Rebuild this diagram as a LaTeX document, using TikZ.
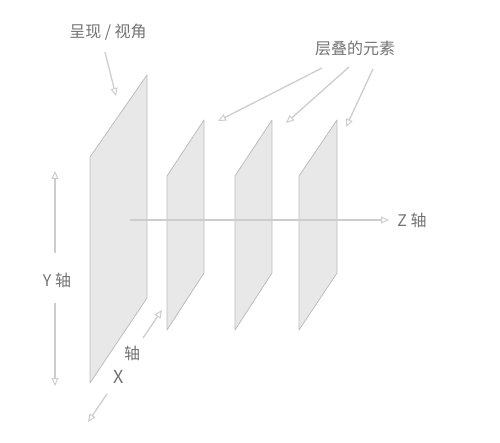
\documentclass[tikz,border=0pt]{standalone}
\usepackage{fontspec}
\newfontfamily\cjk{Noto Sans CJK SC}
\usetikzlibrary{arrows.meta}
\definecolor{planefill}{HTML}{E8E8E8}
\definecolor{planeline}{HTML}{BDBDBD}
\definecolor{arrowline}{HTML}{CDCDCD}
\definecolor{labeltext}{HTML}{737373}
\tikzstyle{plane}=[draw=planeline, fill=planefill, line width=0.8pt, line join=round]
\tikzstyle{axisarrow}=[draw=arrowline, line width=1.3pt, -{Triangle[open,length=8pt,width=7pt,line width=1pt]}]
\tikzstyle{axislabel}=[text=labeltext, font=\cjk\fontsize{16}{19}\selectfont, inner sep=0pt]

\begin{document}
\begin{tikzpicture}[x=1pt,y=-1pt]
  \useasboundingbox (0,0) rectangle (500,443);
  % the four planes
  \draw[plane] (90,157) -- (147,75) -- (147,298) -- (90,383) -- cycle;
  \draw[plane] (167,176) -- (204,120) -- (204,273) -- (167,330) -- cycle;
  \draw[plane] (235,176) -- (272,120) -- (272,273) -- (235,330) -- cycle;
  \draw[plane] (299,176) -- (337,120) -- (337,273) -- (299,330) -- cycle;
  % labels
  \node[axislabel] (view) at (108,32) {呈现 / 视角};
  \node[axislabel] (stack) at (355,48) {层叠的元素};
  \node[axislabel] (zlab) at (412,220) {Z 轴};
  \node[axislabel] (ylab) at (57,280) {Y 轴};
  \node[axislabel,font=\cjk\fontsize{18}{20}\selectfont] (xchar) at (119,377) {X};
  \node[axislabel] (xword) at (132,353) {轴};
  % arrow ends
  \coordinate (viewtail) at (105,52);
  \coordinate (viewtip) at (116,96);
  \coordinate (stacktailA) at (322,68);
  \coordinate (stacktipA) at (218,121);
  \coordinate (stacktailB) at (349,67);
  \coordinate (stacktipB) at (286,123);
  \coordinate (stacktailC) at (373,69);
  \coordinate (stacktipC) at (346,127);
  \coordinate (zstart) at (130,220);
  \coordinate (ztip) at (389,220);
  \coordinate (yuptail) at (55,253);
  \coordinate (yuptip) at (55,171);
  \coordinate (ydowntail) at (55,303);
  \coordinate (ydowntip) at (55,386);
  \coordinate (xuptail) at (143,338);
  \coordinate (xuptip) at (162,310);
  \coordinate (xdowntail) at (107,394);
  \coordinate (xdowntip) at (88,422);
  % connectors
  \draw[axisarrow] (viewtail) -- (viewtip);
  \draw[axisarrow] (stacktailA) -- (stacktipA);
  \draw[axisarrow] (stacktailB) -- (stacktipB);
  \draw[axisarrow] (stacktailC) -- (stacktipC);
  \draw[axisarrow] (zstart) -- (ztip);
  \draw[axisarrow] (yuptail) -- (yuptip);
  \draw[axisarrow] (ydowntail) -- (ydowntip);
  \draw[axisarrow] (xuptail) -- (xuptip);
  \draw[axisarrow] (xdowntail) -- (xdowntip);
\end{tikzpicture}
\end{document}
